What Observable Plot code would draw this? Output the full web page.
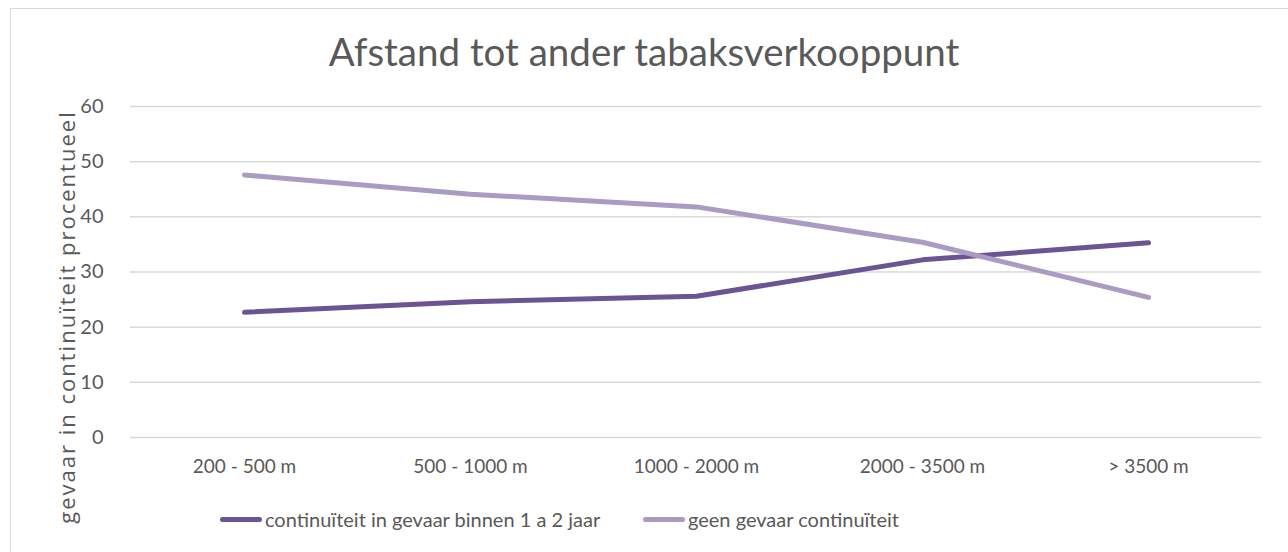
<!DOCTYPE html>
<html>
<head>
<meta charset="utf-8">
<script src="https://cdn.jsdelivr.net/npm/d3@7"></script>
<script src="https://cdn.jsdelivr.net/npm/@observablehq/plot@0.6"></script>
<style>
  html, body { margin: 0; padding: 0; background: #fff; }
  body { width: 1288px; height: 552px; overflow: hidden; position: relative; font-family: Lato, "Open Sans", sans-serif; color: #595959; }
  #frame { position: absolute; left: 10px; top: 8px; width: 1290px; height: 560px; border: 1px solid #d9d9d9; box-sizing: border-box; }
  #title { position: absolute; left: 0; top: 0; width: 1288px; height: 90px; text-align: center; font-size: 38.5px; line-height: 102px; color: #595959; }
  #chart { position: absolute; left: 0; top: 90px; }
  #ylabel { position: absolute; left: 66px; top: 317px; transform: translate(-50%, -50%) rotate(-90deg); font-family: "Open Sans", sans-serif; font-size: 22px; letter-spacing: 2px; white-space: nowrap; color: #595959; }
  #legend { position: absolute; left: 0; top: 497px; width: 1288px; height: 44px; }
  .item { position: absolute; top: 0; height: 44px; display: flex; align-items: center; font-size: 20px; color: #595959; white-space: nowrap; }
  .sw { width: 42px; height: 5px; border-radius: 3px; margin-right: 3px; }
</style>
</head>
<body>
<div id="frame"></div>
<div id="title"></div>
<div id="chart"></div>
<div id="ylabel"></div>
<div id="legend"></div>
<script>
const title = "Afstand tot ander tabaksverkooppunt";
const yLabel = "gevaar in continuïteit procentueel";
const categories = ["200 - 500 m", "500 - 1000 m", "1000 - 2000 m", "2000 - 3500 m", "> 3500 m"];
const seriesNames = ["continuïteit in gevaar binnen 1 a 2 jaar", "geen gevaar continuïteit"];
const seriesColors = ["#6b5491", "#a99bc1"];
const inGevaar = [22.7, 24.6, 25.6, 32.2, 35.3];
const geenGevaar = [47.6, 44.1, 41.8, 35.4, 25.4];
const yTicks = [0, 10, 20, 30, 40, 50, 60];

const rows = [];
categories.forEach((c, i) => {
  rows.push({cat: c, value: inGevaar[i], series: seriesNames[0]});
});
categories.forEach((c, i) => {
  rows.push({cat: c, value: geenGevaar[i], series: seriesNames[1]});
});

document.getElementById("title").textContent = title;
document.getElementById("ylabel").textContent = yLabel;

const chart = Plot.plot({
  width: 1288,
  height: 407,
  marginLeft: 130,
  marginRight: 27,
  marginTop: 16,
  marginBottom: 60,
  style: {fontFamily: "Lato, 'Open Sans', sans-serif", fontSize: "19px", color: "#595959", background: "transparent"},
  x: {type: "point", domain: categories, padding: 0.5, label: null},
  y: {domain: [0, 60], label: null},
  color: {domain: seriesNames, range: seriesColors},
  marks: [
    Plot.ruleY(yTicks, {stroke: "#d9d9d9", strokeWidth: 1.5}),
    Plot.axisY({ticks: yTicks, tickSize: 0, tickPadding: 27, label: null, fill: "#595959", fontSize: 20}),
    Plot.axisX({tickSize: 0, tickPadding: 22, label: null, fill: "#595959", fontSize: 19}),
    Plot.line(rows, {x: "cat", y: "value", z: "series", stroke: "series", strokeWidth: 5, strokeLinecap: "round", strokeLinejoin: "round"})
  ]
});
document.getElementById("chart").appendChild(chart);

const legend = document.getElementById("legend");
const legendX = [220, 643];
seriesNames.forEach((n, i) => {
  const item = document.createElement("div");
  item.className = "item";
  item.style.left = legendX[i] + "px";
  const sw = document.createElement("div");
  sw.className = "sw";
  sw.style.background = seriesColors[i];
  const t = document.createElement("span");
  t.textContent = n;
  item.appendChild(sw);
  item.appendChild(t);
  legend.appendChild(item);
});
</script>
</body>
</html>
